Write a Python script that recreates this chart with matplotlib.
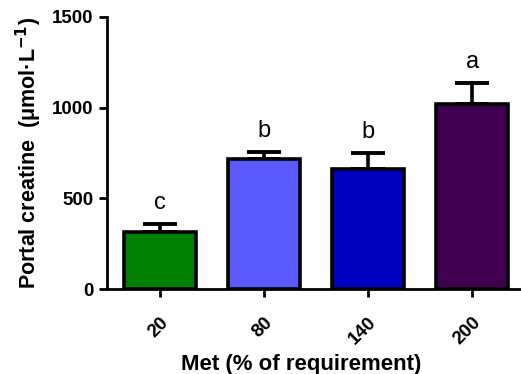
import numpy as np
import matplotlib
matplotlib.use('Agg')
import matplotlib.pyplot as plt

plt.rcParams['font.family'] = ['Liberation Sans', 'DejaVu Sans']

groups = ['20', '80', '140', '200']
means = [316, 717, 663, 1018]
sems = [42, 38, 85, 116]
letters = ['c', 'b', 'b', 'a']
colors = ['#007F00', '#5A5AFF', '#0000C0', '#400050']

fig = plt.figure(figsize=(5.21, 3.74), dpi=100)
ax = fig.add_axes([0.205, 0.227, 0.795, 0.728])

x = np.arange(len(groups))
ax.bar(x, means, width=0.69, color=colors, edgecolor='black', linewidth=2.6, zorder=2)
ax.errorbar(x, means, yerr=[np.zeros(len(sems)), sems], fmt='none', ecolor='black',
            elinewidth=2.6, capsize=12.5, capthick=2.8, zorder=1)

for i in range(len(groups)):
    ax.text(x[i], means[i] + sems[i] + 115, letters[i], ha='center', va='center', fontsize=17)

ax.set_xlim(-0.51, 3.47)
ax.set_ylim(0, 1500)
ax.set_yticks([0, 500, 1000, 1500])
ax.set_xticks(x)
ax.set_xticklabels(groups, rotation=45, ha='right', rotation_mode='anchor')

for s in ['top', 'right']:
    ax.spines[s].set_visible(False)
for s in ['left', 'bottom']:
    ax.spines[s].set_linewidth(2)
ax.tick_params(width=2, length=6, labelsize=13.5)
ax.tick_params(axis='x', pad=12)
for lab in ax.get_xticklabels() + ax.get_yticklabels():
    lab.set_fontweight('bold')

ax.set_ylabel('Portal creatine  (μmol·L$^{\\mathbf{-1}}$)', fontsize=15.5, fontweight='bold', labelpad=6)
ax.set_xlabel('Met (% of requirement)', fontsize=16, fontweight='bold', labelpad=4)
ax.xaxis.label.set_x(0.47)

fig.savefig('out.png', dpi=100)
